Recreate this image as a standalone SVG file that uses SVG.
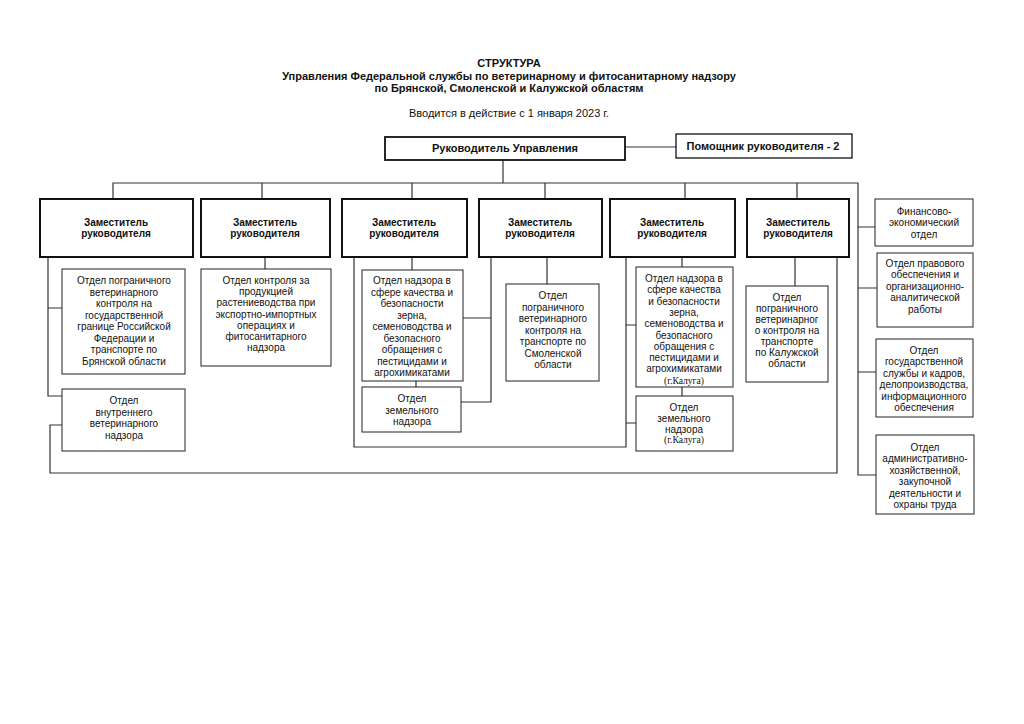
<svg xmlns="http://www.w3.org/2000/svg" width="1024" height="724" viewBox="0 0 1024 724">
<style>
text{font-family:"Liberation Sans",Arial,sans-serif;fill:#111;text-anchor:middle}
.t{font-size:11px;font-weight:bold}
.s{font-size:11px}
.dep rect{fill:#fff;stroke:#111;stroke-width:2}
.dep text{font-size:10px;font-weight:bold}
.box rect{fill:#fff;stroke:#222;stroke-width:1}
.box text{font-size:10px}
.top rect{fill:#fff;stroke:#111;stroke-width:1.8}
.top text{font-size:11px;font-weight:bold}
.box text.ser{font-family:"Liberation Serif","Times New Roman",serif;font-size:9.6px}
#connectors path{fill:none;stroke:#333;stroke-width:1.2}
</style>
<rect width="1024" height="724" fill="#fff"/>
<g id="title">
<text class="t" x="509" y="67">СТРУКТУРА</text>
<text class="t" x="509" y="80">Управления Федеральной службы по ветеринарному и фитосанитарному надзору</text>
<text class="t" x="509" y="92">по Брянской, Смоленской и Калужской областям</text>
<text class="s" x="509" y="117">Вводится в действие с 1 января 2023 г.</text>
</g>
<g id="connectors">
<path d="M625 147H676"/>
<path d="M503 160V183"/>
<path d="M113 199V183H858V475H876"/>
<path d="M262 183V199M412 183V199M545 183V199M685 183V199M797 183V199"/>
<path d="M858 227H875M858 288H877M858 372H876"/>
<path d="M48 257V396H62M48 308H62"/>
<path d="M62 425H50V473H837V257"/>
<path d="M265 257V269"/>
<path d="M412 257V270M416 381V387"/>
<path d="M354 257V447H626V257"/>
<path d="M626 325H636M626 423H636"/>
<path d="M491 257V402H461M491 318H463"/>
<path d="M547 257V284"/>
<path d="M682 257V267M682 387V396"/>
<path d="M795 257V286"/>
</g>
<g id="head" class="top"><rect x="385" y="137" width="240" height="23"/><text x="505" y="152">Руководитель Управления</text></g>
<g id="assistant" class="top"><rect x="676" y="134" width="176" height="24" style="stroke-width:1.3"/><text x="763" y="150">Помощник руководителя - 2</text></g>
<g id="dep1" class="dep"><rect x="40" y="199" width="153" height="58"/><text x="116" y="226">Заместитель</text><text x="116" y="237">руководителя</text></g>
<g id="dep2" class="dep"><rect x="201" y="199" width="129" height="58"/><text x="265" y="226">Заместитель</text><text x="265" y="237">руководителя</text></g>
<g id="dep3" class="dep"><rect x="342" y="199" width="125" height="58"/><text x="404" y="226">Заместитель</text><text x="404" y="237">руководителя</text></g>
<g id="dep4" class="dep"><rect x="479" y="199" width="123" height="58"/><text x="540" y="226">Заместитель</text><text x="540" y="237">руководителя</text></g>
<g id="dep5" class="dep"><rect x="610" y="199" width="125" height="58"/><text x="672" y="226">Заместитель</text><text x="672" y="237">руководителя</text></g>
<g id="dep6" class="dep"><rect x="747" y="199" width="102" height="58"/><text x="798" y="226">Заместитель</text><text x="798" y="237">руководителя</text></g>
<g id="boxA" class="box"><rect x="62" y="269" width="123" height="105"/>
<text x="124" y="284">Отдел пограничного</text><text x="124" y="295.5">ветеринарного</text><text x="124" y="307">контроля на</text><text x="124" y="318.5">государственной</text><text x="124" y="330">границе  Российской</text><text x="124" y="341.5">Федерации и</text><text x="124" y="353">транспорте по</text><text x="124" y="364.5">Брянской области</text></g>
<g id="boxB" class="box"><rect x="62" y="389" width="123" height="62"/>
<text x="124" y="404">Отдел</text><text x="124" y="415.5">внутреннего</text><text x="124" y="427">ветеринарного</text><text x="124" y="438.5">надзора</text></g>
<g id="boxC" class="box"><rect x="201" y="269" width="130" height="97"/>
<text x="266" y="284">Отдел контроля за</text><text x="266" y="295.2">продукцией</text><text x="266" y="306.4">растениеводства при</text><text x="266" y="317.6">экспортно-импортных</text><text x="266" y="328.8">операциях и</text><text x="266" y="340">фитосанитарного</text><text x="266" y="351.2">надзора</text></g>
<g id="boxD" class="box"><rect x="362" y="270" width="101" height="111"/>
<text x="412" y="284">Отдел надзора в</text><text x="412" y="295.5">сфере качества и</text><text x="412" y="307">безопасности</text><text x="412" y="318.5">зерна,</text><text x="412" y="330">семеноводства и</text><text x="412" y="341.5">безопасного</text><text x="412" y="353">обращения с</text><text x="412" y="364.5">пестицидами и</text><text x="412" y="376">агрохимикатами</text></g>
<g id="boxE" class="box"><rect x="362" y="387" width="99" height="45"/>
<text x="412" y="402">Отдел</text><text x="412" y="413.5">земельного</text><text x="412" y="425">надзора</text></g>
<g id="boxF" class="box"><rect x="506" y="284" width="93" height="97"/>
<text x="553" y="299">Отдел</text><text x="553" y="310.5">пограничного</text><text x="553" y="322">ветеринарного</text><text x="553" y="333.5">контроля на</text><text x="553" y="345">транспорте по</text><text x="553" y="356.5">Смоленской</text><text x="553" y="368">области</text></g>
<g id="boxG" class="box"><rect x="636" y="267" width="97" height="120"/>
<text x="684" y="282">Отдел надзора в</text><text x="684" y="293.3">сфере качества</text><text x="684" y="304.6">и безопасности</text><text x="684" y="315.9">зерна,</text><text x="684" y="327.2">семеноводства и</text><text x="684" y="338.5">безопасного</text><text x="684" y="349.8">обращения с</text><text x="684" y="361.1">пестицидами и</text><text x="684" y="372.4">агрохимикатами</text><text class="ser" x="684" y="383.5">(г.Калуга)</text></g>
<g id="boxH" class="box"><rect x="636" y="396" width="97" height="55"/>
<text x="684" y="410.5">Отдел</text><text x="684" y="421.5">земельного</text><text x="684" y="432.5">надзора</text><text class="ser" x="684" y="443">(г.Калуга)</text></g>
<g id="boxI" class="box"><rect x="746" y="286" width="82" height="96"/>
<text x="787" y="300.5">Отдел</text><text x="787" y="311.5">пограничного</text><text x="787" y="322.5">ветеринарног</text><text x="787" y="333.5">о контроля на</text><text x="787" y="344.5">транспорте</text><text x="787" y="356">по Калужской</text><text x="787" y="367">области</text></g>
<g id="r1" class="box"><rect x="875" y="199" width="98" height="47"/>
<text x="924" y="214.5">Финансово-</text><text x="924" y="226">экономический</text><text x="924" y="237.5">отдел</text></g>
<g id="r2" class="box"><rect x="877" y="253" width="96" height="74"/>
<text x="925" y="266.5">Отдел правового</text><text x="925" y="278">обеспечения и</text><text x="925" y="289.5">организационно-</text><text x="925" y="301">аналитической</text><text x="925" y="312.5">работы</text></g>
<g id="r3" class="box"><rect x="876" y="339" width="97" height="78"/>
<text x="924" y="353.5">Отдел</text><text x="924" y="365">государственной</text><text x="924" y="376.5">службы и кадров,</text><text x="924" y="388">делопроизводства,</text><text x="924" y="399.5">информационного</text><text x="924" y="411">обеспечения</text></g>
<g id="r4" class="box"><rect x="876" y="435" width="98" height="79"/>
<text x="925" y="450.5">Отдел</text><text x="925" y="462">административно-</text><text x="925" y="473.5">хозяйственной,</text><text x="925" y="485">закупочной</text><text x="925" y="496.5">деятельности и</text><text x="925" y="508">охраны труда</text></g>
</svg>
